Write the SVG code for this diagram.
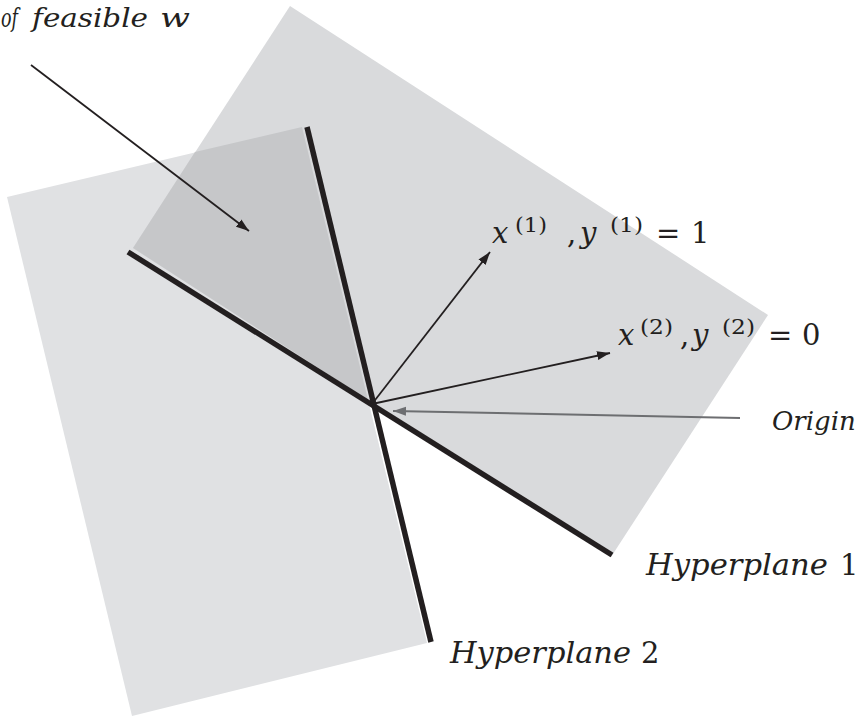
<svg xmlns="http://www.w3.org/2000/svg" width="863" height="717" viewBox="0 0 863 717">
<defs>
<style>
.it{font-family:"DejaVu Serif","Liberation Serif",serif;font-style:italic;font-size:29px;fill:#231f20}
.up{font-family:"DejaVu Serif","Liberation Serif",serif;font-style:normal;font-size:29px;fill:#231f20}
.sup{font-family:"DejaVu Serif","Liberation Serif",serif;font-style:normal;font-size:20px;fill:#231f20}
.top{font-family:"DejaVu Serif","Liberation Serif",serif;font-style:italic;font-size:26px;fill:#231f20}
.hp{stroke:#231f20;stroke-width:5.5;fill:none}
.arr{stroke:#231f20;stroke-width:1.8;fill:none;marker-end:url(#ah)}
.garr{stroke:#6d6e71;stroke-width:2;fill:none;marker-end:url(#gah)}
</style>
<marker id="ah" markerUnits="userSpaceOnUse" markerWidth="14" markerHeight="10" refX="13" refY="5" orient="auto">
<path d="M0,0.5 L13,5 L0,9.5 z" fill="#231f20"/>
</marker>
<marker id="gah" markerUnits="userSpaceOnUse" markerWidth="14" markerHeight="10" refX="13" refY="5" orient="auto">
<path d="M0,0.5 L13,5 L0,9.5 z" fill="#6d6e71"/>
</marker>
</defs>
<rect width="863" height="717" fill="#ffffff"/>
<g id="region-h2">
<polygon points="7,197 302,127 427,643 132,716" fill="#e0e1e3"/>
</g>
<g id="region-h1">
<polygon points="290,6 768,315 611,557 133,248" fill="#d9dadc"/>
</g>
<g id="region-feasible">
<polygon points="133,248 195,152 302,127 368,400" fill="#c6c7c9"/>
</g>
<g id="hyperplane1">
<line class="hp" x1="128" y1="252" x2="612" y2="555"/>
</g>
<g id="hyperplane2">
<line class="hp" x1="307" y1="127" x2="431" y2="642"/>
</g>
<g id="connectors">
<line class="arr" x1="31" y1="65" x2="249" y2="231"/>
<line class="arr" x1="372" y1="404" x2="490" y2="252"/>
<line class="arr" x1="372" y1="404" x2="610" y2="353"/>
<line class="garr" x1="740" y1="418" x2="393" y2="411"/>
</g>
<g id="label-feasible">
<text class="top" x="1" y="27" textLength="17" lengthAdjust="spacingAndGlyphs">of</text>
<text class="top" x="32" y="27" textLength="116" lengthAdjust="spacingAndGlyphs">feasible</text>
<text class="top" x="160" y="27" textLength="30" lengthAdjust="spacingAndGlyphs">w</text>
</g>
<g id="label-x1">
<text class="it" x="492" y="243">x</text>
<text class="sup" x="515" y="232" textLength="32" lengthAdjust="spacingAndGlyphs">(1)</text>
<text class="up" x="567" y="243">,</text>
<text class="it" x="580" y="243">y</text>
<text class="sup" x="610" y="232" textLength="33" lengthAdjust="spacingAndGlyphs">(1)</text>
<text class="up" x="656" y="243">=</text>
<text class="up" x="691" y="243">1</text>
</g>
<g id="label-x2">
<text class="it" x="618" y="345">x</text>
<text class="sup" x="640" y="334" textLength="33" lengthAdjust="spacingAndGlyphs">(2)</text>
<text class="up" x="680" y="345">,</text>
<text class="it" x="692" y="345">y</text>
<text class="sup" x="722" y="334" textLength="33" lengthAdjust="spacingAndGlyphs">(2)</text>
<text class="up" x="768" y="345">=</text>
<text class="up" x="802" y="345">0</text>
</g>
<g id="label-origin">
<text class="top" x="772" y="430">Origin</text>
</g>
<g id="label-hyperplane1">
<text class="it" x="646" y="575" textLength="182" lengthAdjust="spacingAndGlyphs">Hyperplane</text>
<text class="up" x="840" y="575">1</text>
</g>
<g id="label-hyperplane2">
<text class="it" x="450" y="663" textLength="181" lengthAdjust="spacingAndGlyphs">Hyperplane</text>
<text class="up" x="641" y="663">2</text>
</g>
</svg>
